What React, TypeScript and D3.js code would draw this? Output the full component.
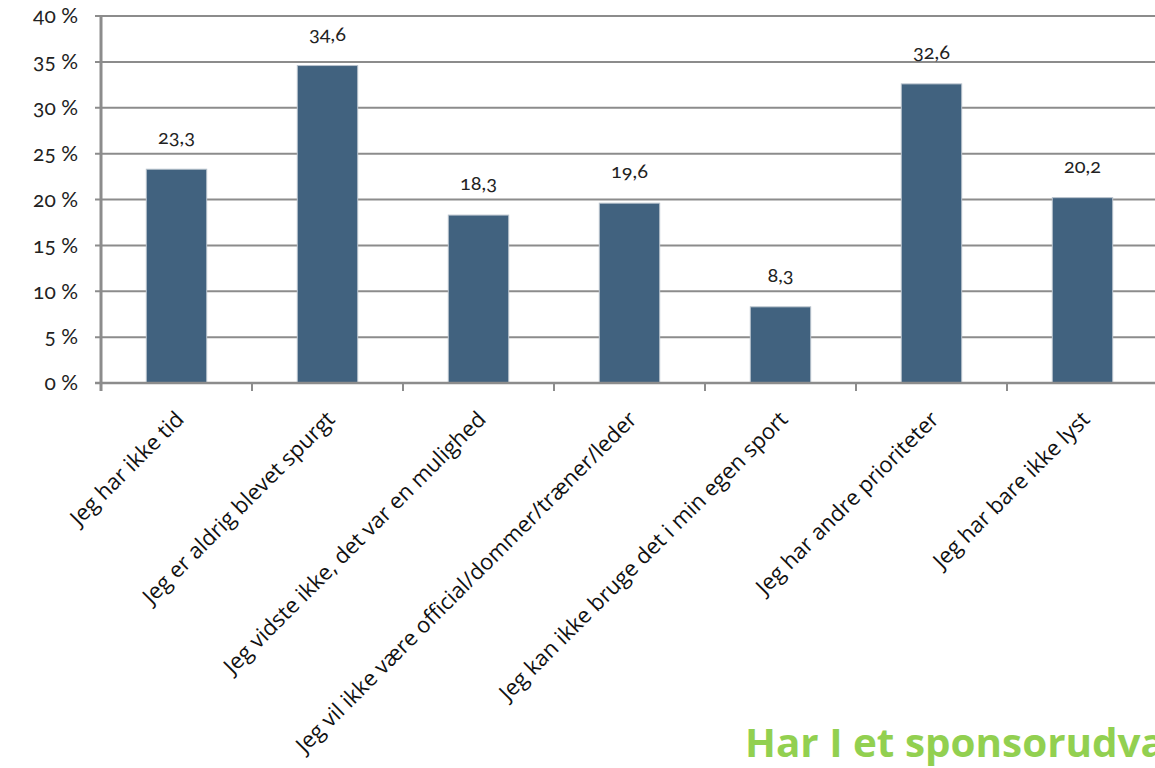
import React, { useEffect, useRef } from 'react';
import * as d3 from 'd3';

const categories = [
  'Jeg har ikke tid',
  'Jeg er aldrig blevet spurgt',
  'Jeg vidste ikke, det var en mulighed',
  'Jeg vil ikke være official/dommer/træner/leder',
  'Jeg kan ikke bruge det i min egen sport',
  'Jeg har andre prioriteter',
  'Jeg har bare ikke lyst',
];
const values = [23.3, 34.6, 18.3, 19.6, 8.3, 32.6, 20.2];
const yTicks = [0, 5, 10, 15, 20, 25, 30, 35, 40];
const footerText = 'Har I et sponsorudva';

const W = 1155;
const H = 768;

const App: React.FC = () => {
  const svgRef = useRef<SVGSVGElement | null>(null);

  useEffect(() => {
    if (!svgRef.current) return;
    const svg = d3.select(svgRef.current);
    svg.selectAll('*').remove();

    const left = 101;
    const bandW = 151;
    const x = d3.scaleBand<string>()
      .domain(categories)
      .range([left, left + bandW * categories.length])
      .paddingInner(0.6)
      .paddingOuter(0.3);

    const y = d3.scaleLinear().domain([0, 40]).range([383, 16]);

    const axisFont = 'Lato, "Open Sans", sans-serif';
    const labelFont = '"Open Sans", Lato, sans-serif';

    // grid lines
    svg.append('g')
      .selectAll('line')
      .data(yTicks.filter(t => t > 0))
      .enter()
      .append('line')
      .attr('x1', left - 6)
      .attr('x2', W)
      .attr('y1', d => y(d))
      .attr('y2', d => y(d))
      .attr('stroke', '#8c8c8c')
      .attr('stroke-width', 2);

    // y tick labels
    svg.append('g')
      .selectAll('text')
      .data(yTicks)
      .enter()
      .append('text')
      .attr('x', 78)
      .attr('y', d => y(d))
      .attr('dy', '0.35em')
      .attr('text-anchor', 'end')
      .attr('font-family', axisFont)
      .attr('font-size', 21)
      .style('font-variant-numeric', 'oldstyle-nums')
      .attr('fill', '#222')
      .text(d => `${d} %`);

    // bars
    svg.append('g')
      .selectAll('rect')
      .data(values)
      .enter()
      .append('rect')
      .attr('x', (_, i) => x(categories[i])!)
      .attr('width', x.bandwidth())
      .attr('y', d => y(d))
      .attr('height', d => y(0) - y(d))
      .attr('fill', '#41627f')
      .attr('stroke', '#b8c2cc')
      .attr('stroke-width', 1);

    // value labels
    svg.append('g')
      .selectAll('text')
      .data(values)
      .enter()
      .append('text')
      .attr('x', (_, i) => x(categories[i])! + x.bandwidth() / 2)
      .attr('y', d => y(d) - 25)
      .attr('text-anchor', 'middle')
      .attr('font-family', axisFont)
      .attr('font-size', 20)
      .style('font-variant-numeric', 'oldstyle-nums')
      .attr('fill', '#222')
      .text(d => d.toFixed(1).replace('.', ','));

    // axes lines
    svg.append('line')
      .attr('x1', left).attr('x2', left)
      .attr('y1', y(40)).attr('y2', y(0) + 8)
      .attr('stroke', '#8c8c8c').attr('stroke-width', 3);
    svg.append('line')
      .attr('x1', left - 6).attr('x2', W)
      .attr('y1', y(0)).attr('y2', y(0))
      .attr('stroke', '#8c8c8c').attr('stroke-width', 2.5);
    svg.append('line')
      .attr('x1', left - 6).attr('x2', left)
      .attr('y1', y(40)).attr('y2', y(40))
      .attr('stroke', '#8c8c8c').attr('stroke-width', 2);

    // x ticks at band boundaries
    svg.append('g')
      .selectAll('line')
      .data(d3.range(1, categories.length + 1))
      .enter()
      .append('line')
      .attr('x1', i => left + i * bandW)
      .attr('x2', i => left + i * bandW)
      .attr('y1', y(0))
      .attr('y2', y(0) + 8)
      .attr('stroke', '#8c8c8c')
      .attr('stroke-width', 2);

    // category labels
    svg.append('g')
      .selectAll('text')
      .data(categories)
      .enter()
      .append('text')
      .attr('transform', d => `translate(${x(d)! + x.bandwidth() / 2 - 3},${409}) rotate(-45)`)
      .attr('text-anchor', 'end')
      .attr('dy', '0.75em')
      .attr('font-family', labelFont)
      .attr('font-size', 22)
      .attr('fill', '#111')
      .text(d => d);

    // footer title (cut off at the right edge, as in the source slide)
    svg.append('text')
      .attr('x', 745)
      .attr('y', 757)
      .attr('font-family', '"Open Sans", sans-serif')
      .attr('font-weight', 'bold')
      .attr('font-size', 40)
      .attr('textLength', 420)
      .attr('lengthAdjust', 'spacingAndGlyphs')
      .attr('fill', '#92d050')
      .text(footerText);
  }, []);

  return (
    <svg
      ref={svgRef}
      width={W}
      height={H}
      style={{ position: 'absolute', left: 0, top: 0, background: '#fff' }}
    />
  );
};

export default App;
